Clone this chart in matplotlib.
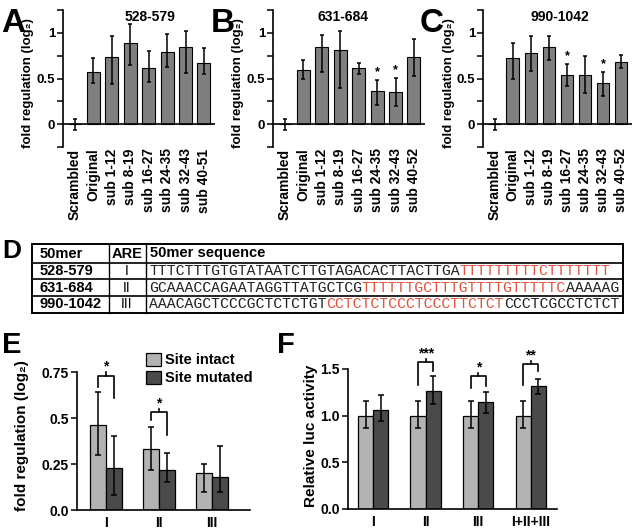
import numpy as np
import matplotlib
matplotlib.use('Agg')
import matplotlib.pyplot as plt

plt.rcParams['font.family'] = ['Liberation Sans', 'DejaVu Sans']
plt.rcParams['font.weight'] = 'bold'
plt.rcParams['axes.linewidth'] = 1.2

W, H = 633, 530

# ---- data: panels A-C ----
labels_A = ['Scrambled', 'Original', 'sub 1-12', 'sub 8-19', 'sub 16-27',
            'sub 24-35', 'sub 32-43', 'sub 40-51']
labels_BC = ['Scrambled', 'Original', 'sub 1-12', 'sub 8-19', 'sub 16-27',
             'sub 24-35', 'sub 32-43', 'sub 40-52']

A_mean = [0.00, 0.57, 0.74, 0.89, 0.62, 0.79, 0.85, 0.67]
A_low = [-0.06, 0.45, 0.44, 0.65, 0.46, 0.63, 0.56, 0.55]
A_high = [0.06, 0.72, 0.97, 1.10, 0.80, 0.99, 1.02, 0.83]

B_mean = [0.00, 0.59, 0.85, 0.81, 0.61, 0.36, 0.35, 0.73]
B_low = [-0.06, 0.49, 0.57, 0.40, 0.55, 0.21, 0.20, 0.53]
B_high = [0.06, 0.70, 0.98, 1.02, 0.67, 0.48, 0.51, 0.93]

C_mean = [0.00, 0.72, 0.78, 0.84, 0.54, 0.54, 0.45, 0.68]
C_low = [-0.06, 0.50, 0.58, 0.70, 0.42, 0.34, 0.31, 0.61]
C_high = [0.06, 0.89, 0.97, 0.96, 0.66, 0.75, 0.57, 0.76]

B_stars = [5, 6]
C_stars = [4, 6]
titles = ['528-579', '631-684', '990-1042']

# ---- data: panel D ----
d_names = ['528-579', '631-684', '990-1042']
d_are = ['I', 'II', 'III']
d_seq = [('TTTCTTTGTGTATAATCTTGTAGACACTTACTTGA', 'TTTTTTTTTCTTTTTTT', ''),
         ('GCAAACCAGAATAGGTTATGCTCG', 'TTTTTTGCTTTGTTTTGTTTTTC', 'AAAAAG'),
         ('AAACAGCTCCCGCTCTCTGT', 'CCTCTCTCCCTCCCTTCTCT', 'CCCTCGCCTCTCT')]

# ---- data: panel E ----
groups_E = ['I', 'II', 'III']
E_intact = [0.46, 0.33, 0.20]
E_intact_lo = [0.30, 0.22, 0.10]
E_intact_hi = [0.64, 0.45, 0.25]
E_mut = [0.23, 0.22, 0.18]
E_mut_lo = [0.08, 0.15, 0.10]
E_mut_hi = [0.40, 0.31, 0.35]
# (group, top, left leg bottom, right leg bottom, label)
E_brackets = [(0, 0.73, 0.67, 0.61, '*'), (1, 0.53, 0.49, 0.41, '*')]

# ---- data: panel F ----
groups_F = ['I', 'II', 'III', 'I+II+III']
F_intact = [1.00, 1.00, 1.00, 1.00]
F_intact_lo = [0.87, 0.87, 0.87, 0.87]
F_intact_hi = [1.16, 1.16, 1.16, 1.16]
F_mut = [1.06, 1.26, 1.15, 1.32]
F_mut_lo = [0.94, 1.13, 1.03, 1.23]
F_mut_hi = [1.22, 1.43, 1.25, 1.39]
F_brackets = [(1, 1.57, 1.33, 1.48, '***'), (2, 1.42, 1.30, 1.32, '*'),
              (3, 1.55, 1.33, 1.48, '**')]

light = '#b3b3b3'
dark = '#4a4a4a'
mid = '#7f7f7f'
ylab = 'fold regulation (log\u2082)'

fig = plt.figure(figsize=(W / 100, H / 100), dpi=100)


def px_axes(left, top, right, bottom):
    return fig.add_axes([left / W, 1 - bottom / H, (right - left) / W, (bottom - top) / H])


def fig_text(x, y, s, **kw):
    fig.text(x / W, 1 - y / H, s, fontweight='bold', **kw)


# ---- panels A-C ----
top_data = [(labels_A, A_mean, A_low, A_high, []),
            (labels_BC, B_mean, B_low, B_high, B_stars),
            (labels_BC, C_mean, C_low, C_high, C_stars)]
top_left = [63, 273, 483]
top_right = [215, 425, 632]
title_x = [150, 343, 560]

for i, (labels, mean, low, high, stars) in enumerate(top_data):
    ax = px_axes(top_left[i], 10, top_right[i], 147)
    mean = np.array(mean)
    low = np.array(low)
    high = np.array(high)
    x = np.arange(len(mean))
    ax.bar(x, mean, 0.7, color=mid, edgecolor='black', linewidth=0.8, zorder=2)
    ax.errorbar(x, mean, yerr=[mean - low, high - mean], fmt='none', ecolor='black',
                elinewidth=1.1, capsize=1.6, capthick=1.1, zorder=3)
    ax.axhline(0, color='black', lw=1.2, zorder=4)
    for s in stars:
        ax.text(x[s], high[s] + 0.02, '*', ha='center', va='bottom', fontsize=9,
                fontweight='bold')
    ax.set_xlim(-0.65, 7.6)
    ax.set_ylim(-0.25, 1.25)
    for sp in ['top', 'right', 'bottom']:
        ax.spines[sp].set_visible(False)
    yt = np.arange(-0.25, 1.26, 0.25)
    ax.set_yticks(yt)
    ax.set_yticklabels(['0' if abs(v) < 1e-9 else '0.5' if abs(v - 0.5) < 1e-9
                        else '1' if abs(v - 1) < 1e-9 else '' for v in yt],
                       fontweight='bold')
    ax.tick_params(axis='y', length=4, width=1.1, labelsize=9.5, pad=1.5)
    ax.set_xticks(x)
    ax.set_xticklabels(labels, rotation=90, fontsize=10, fontweight='bold')
    ax.tick_params(axis='x', length=0, pad=1)
    ax.set_ylabel(ylab, fontsize=9.5, fontweight='bold')
    ax.yaxis.set_label_coords(-0.19, 0.47)
    fig_text(title_x[i], 17, titles[i], ha='center', va='center', fontsize=10)

# ---- panel D (table) ----
axt = fig.add_axes([0, 0, 1, 1], zorder=-1)
axt.set_xlim(0, W)
axt.set_ylim(H, 0)
axt.axis('off')
t_left, t_right = 32, 623
row_lines = [244, 263, 279, 296, 313]
for k, yl in enumerate(row_lines):
    axt.plot([t_left, t_right], [yl, yl], color='black', lw=1.4 if k in (0, 4) else 1.2)
for xl in [t_left, t_right]:
    axt.plot([xl, xl], [row_lines[0], row_lines[-1]], color='black', lw=1.4)
for xl in [109, 146]:
    axt.plot([xl, xl], [row_lines[0], row_lines[-1]], color='black', lw=1.0)

ycent = [(row_lines[k] + row_lines[k + 1]) / 2 for k in range(4)]
axt.text(40, ycent[0], '50mer', ha='left', va='center', fontsize=10.5, fontweight='bold')
axt.text(127, ycent[0], 'ARE', ha='center', va='center', fontsize=10.5, fontweight='bold')
axt.text(150, ycent[0], '50mer sequence', ha='left', va='center', fontsize=10.5,
         fontweight='bold')
red = '#e0533d'
mono = dict(fontsize=10.6, family='Liberation Mono', fontweight='normal')
for k in range(3):
    yc = ycent[k + 1]
    axt.text(40, yc, d_names[k], ha='left', va='center', fontsize=10.5, fontweight='bold')
    axt.text(127, yc, d_are[k], ha='center', va='center', fontsize=10, fontweight='normal')
    a, b, c = d_seq[k]
    t1 = axt.text(149, yc, a, ha='left', va='center', color='#222222', **mono)
    t2 = axt.annotate(b, xy=(1, 0), xycoords=t1, ha='left', va='bottom', color=red, **mono)
    if c:
        axt.annotate(c, xy=(1, 0), xycoords=t2, ha='left', va='bottom', color='#222222',
                     **mono)


# ---- panels E and F ----
def bracket(ax, gx, off, top, lb, rb, label, bump):
    x1, x2 = gx - off, gx + off
    ax.plot([x1, x1, x2, x2], [lb, top, top, rb], color='black', lw=1.2, clip_on=False)
    ax.plot([gx, gx], [top, top + bump], color='black', lw=1.2, clip_on=False)
    ax.text(gx, top + bump * 0.6, label, ha='center', va='bottom', fontsize=10,
            fontweight='bold', clip_on=False)


def group_panel(ax, groups, intact, ilo, ihi, mut, mlo, mhi, width):
    x = np.arange(len(groups))
    intact, ilo, ihi = map(np.array, (intact, ilo, ihi))
    mut, mlo, mhi = map(np.array, (mut, mlo, mhi))
    ax.bar(x - width / 2, intact, width, color=light, edgecolor='black', lw=0.9,
           label='Site intact', zorder=2)
    ax.bar(x + width / 2, mut, width, color=dark, edgecolor='black', lw=0.9,
           label='Site mutated', zorder=2)
    ax.errorbar(x - width / 2, intact, yerr=[intact - ilo, ihi - intact], fmt='none',
                ecolor='black', elinewidth=1.1, capsize=1.9, capthick=1.1, zorder=3)
    ax.errorbar(x + width / 2, mut, yerr=[mut - mlo, mhi - mut], fmt='none',
                ecolor='black', elinewidth=1.1, capsize=1.9, capthick=1.1, zorder=3)
    for sp in ['top', 'right']:
        ax.spines[sp].set_visible(False)
    ax.set_xticks(x)
    ax.set_xticklabels(groups, fontsize=10, fontweight='bold')
    ax.tick_params(axis='x', length=0, pad=4)
    ax.tick_params(axis='y', length=4, width=1.1, labelsize=10, pad=2)
    return x


axE = px_axes(77, 372, 250, 510)
group_panel(axE, groups_E, E_intact, E_intact_lo, E_intact_hi, E_mut, E_mut_lo, E_mut_hi, 0.30)
axE.set_xlim(-0.55, 2.72)
axE.set_ylim(0, 0.75)
axE.set_yticks([0, 0.25, 0.5, 0.75])
axE.set_yticklabels(['0.0', '0.25', '0.5', '0.75'], fontweight='bold')
axE.set_ylabel(ylab, fontsize=11, fontweight='bold')
axE.yaxis.set_label_coords(-0.28, 0.54)
for g, top, lb, rb, lab in E_brackets:
    bracket(axE, g, 0.15, top, lb, rb, lab, 0.02)
axE.legend(loc='upper left', bbox_to_anchor=(0.40, 1.14), frameon=False,
           prop={'size': 10.5, 'weight': 'bold'},
           handlelength=1.0, handleheight=1.0, handletextpad=0.3, labelspacing=0.25,
           borderpad=0, borderaxespad=0)

axF = px_axes(348, 369, 557, 509)
group_panel(axF, groups_F, F_intact, F_intact_lo, F_intact_hi, F_mut, F_mut_lo, F_mut_hi, 0.29)
axF.set_xlim(-0.48, 3.5)
axF.set_ylim(0, 1.5)
axF.set_yticks([0, 0.5, 1.0, 1.5])
axF.set_yticklabels(['0.0', '0.5', '1.0', '1.5'], fontweight='bold')
axF.set_ylabel('Relative luc activity', fontsize=11, fontweight='bold')
axF.yaxis.set_label_coords(-0.145, 0.52)
for g, top, lb, rb, lab in F_brackets:
    bracket(axF, g, 0.145, top, lb, rb, lab, 0.04)

# ---- panel letters ----
fig_text(1, 32, 'A', fontsize=24, va='baseline')
fig_text(211, 32, 'B', fontsize=24, va='baseline')
fig_text(420, 32, 'C', fontsize=24, va='baseline')
fig_text(2, 258, 'D', fontsize=19, va='baseline')
fig_text(2, 353, 'E', fontsize=21, va='baseline')
fig_text(277, 353, 'F', fontsize=21, va='baseline')

fig.savefig('out.png', dpi=100)
